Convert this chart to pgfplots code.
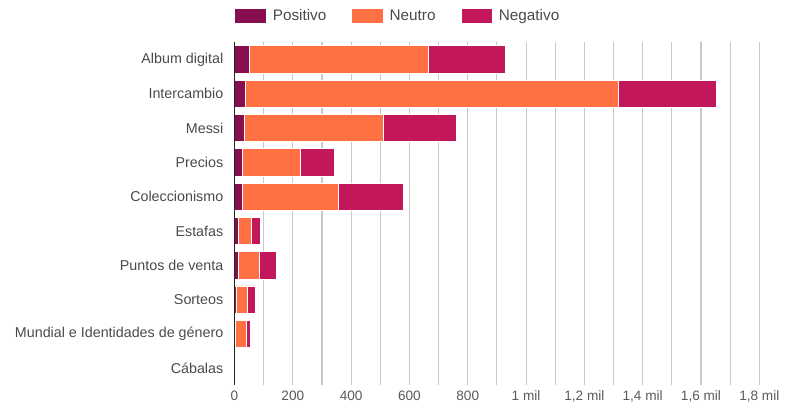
\documentclass[border=0pt]{standalone}
\usepackage{pgfplots}
\pgfplotsset{compat=1.18}
\usepackage{pgfplotstable}
\usepackage{fontspec}
\setmainfont{Liberation Sans}
\definecolor{cpos}{HTML}{880E4F}
\definecolor{cneu}{HTML}{FF7043}
\definecolor{cneg}{HTML}{C2185B}
\definecolor{txt}{HTML}{4A4A4A}
\definecolor{ticktxt}{HTML}{5A5A5A}
\definecolor{gridc}{HTML}{C8C8C8}

\pgfplotstableread{
idx pos neu neg
0 50 616 263
1 37 1280 336
2 33 478 250
3 26 199 119
4 26 331 222
5 12 45 33
6 12 75 57
7 8 36 26
8 3 37 13
9 3 0 2
}\datatable

\begin{document}
\begin{tikzpicture}
\path[use as bounding box] (0,0) rectangle (790pt,407pt);
\begin{axis}[
  name=ax,
  at={(234.5pt,21.65pt)}, anchor=south west,
  scale only axis, width=524.8pt, height=343pt,
  clip=false,
  xbar stacked, bar width=27.4pt,
  xmin=0, xmax=1800, ymin=-0.5, ymax=9.5, y dir=reverse,
  ytick={0,...,9},
  yticklabels={Album digital, Intercambio, Messi, Precios, Coleccionismo, Estafas, Puntos de venta, Sorteos, Mundial e Identidades de género, Cábalas},
  xtick={0,200,...,1800},
  xticklabels={0,200,400,600,800,1 mil,{1,2 mil},{1,4 mil},{1,6 mil},{1,8 mil}},
  minor xtick={100,300,...,1700},
  xmajorgrids, xminorgrids,
  major grid style={draw=gridc, line width=1.1pt},
  minor grid style={draw=gridc, line width=1.1pt},
  major tick length=0pt, minor tick length=0pt,
  axis lines*=left,
  x axis line style={draw=none},
  y axis line style={draw=none},
  yticklabel style={font=\fontsize{14.3}{17}\selectfont, text=txt, xshift=-7.7pt},
  xticklabel style={font=\fontsize{13.6}{16}\selectfont, text=ticktxt, yshift=-2pt},
  legend columns=3,
  legend image code/.code={\fill[#1] (0pt,-7.8pt) rectangle (31.5pt,7.8pt);},
  legend style={at={(axis description cs:0,1)}, anchor=west, yshift=26.3pt,
    draw=none, fill=none, inner sep=0pt, outer sep=0pt,
    font=\fontsize{15.3}{18}\selectfont, text=txt,
    nodes={inner sep=0pt},
    /tikz/every odd column/.append style={column sep=6pt},
    /tikz/every even column/.append style={column sep=25pt}},
]
\addplot+[fill=cpos, draw=white, line width=0.8pt] table[x=pos, y=idx] {\datatable};
\addplot+[fill=cneu, draw=white, line width=0.8pt] table[x=neu, y=idx] {\datatable};
\addplot+[fill=cneg, draw=white, line width=0.8pt] table[x=neg, y=idx] {\datatable};
\legend{Positivo, Neutro, Negativo}
\end{axis}
\draw[black!85, line width=1.3pt] (ax.south west) -- (ax.north west);
\end{tikzpicture}
\end{document}
